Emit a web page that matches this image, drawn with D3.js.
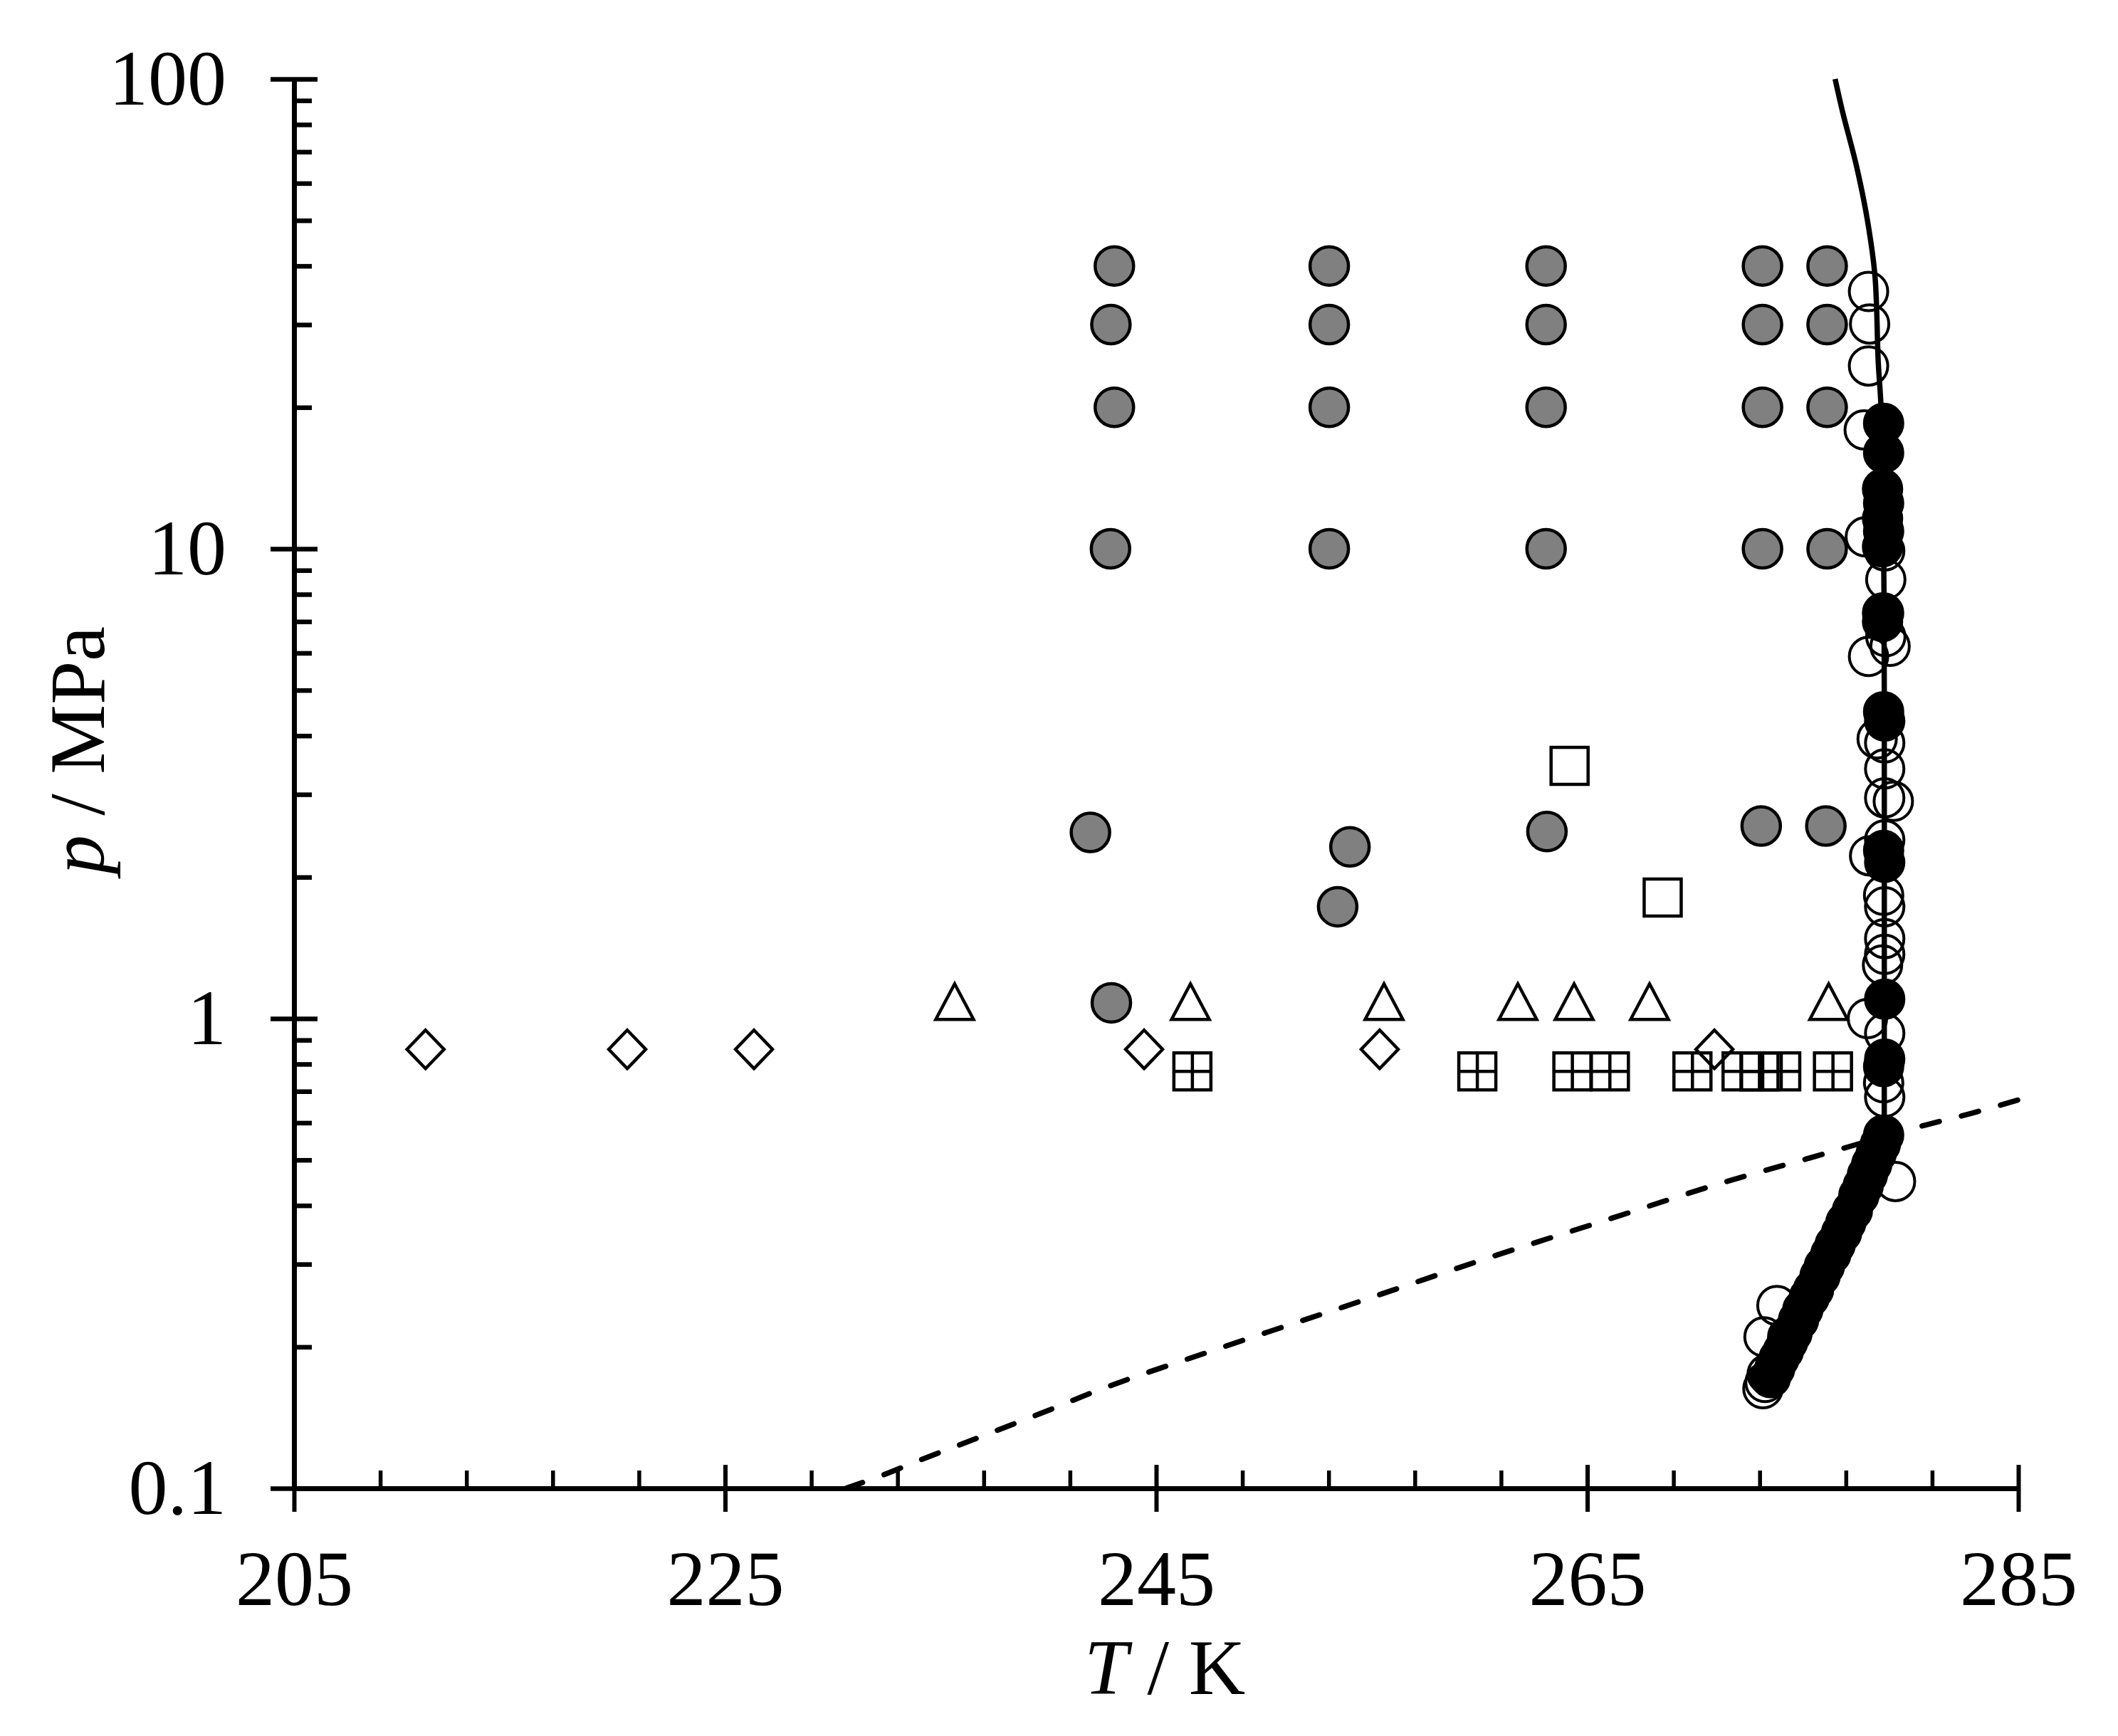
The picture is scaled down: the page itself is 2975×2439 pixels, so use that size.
<!DOCTYPE html>
<html>
<head>
<meta charset="utf-8">
<script src="https://cdn.jsdelivr.net/npm/d3@7"></script>
<style>
  html, body { margin: 0; padding: 0; background: #fff; }
  svg { display: block; }
  text { font-family: "Liberation Serif", "Times New Roman", serif; fill: #000; }
</style>
</head>
<body>
<div id="chart"></div>
<script>
'use strict';

// axis ticks
const xMajor = [205, 225, 245, 265, 285];
const yMajor = [0.1, 1, 10, 100];
const yLabels = ['0.1', '1', '10', '100'];

// grey filled circles
const grayT = [243.06, 242.90, 243.06, 242.88, 242.92, 241.95,
               253.03, 253.03, 253.03, 253.03, 253.99, 253.42,
               263.09, 263.09, 263.09, 263.09, 263.13,
               273.13, 273.13, 273.13, 273.13, 273.07,
               276.13, 276.13, 276.13, 276.13, 276.07];
const grayP = [40, 30, 20, 10, 1.08, 2.49,
               40, 30, 20, 10, 2.32, 1.73,
               40, 30, 20, 10, 2.50,
               40, 30, 20, 10, 2.57,
               40, 30, 20, 10, 2.57];

// black filled circles
const blackT = [278.75, 278.75, 278.70, 278.75, 278.70, 278.75, 278.70,
                278.75, 278.70, 278.75, 278.80, 278.75, 278.80, 278.80, 278.80, 278.75,
                273.5, 273.7, 273.9, 274.1, 274.3, 274.5, 274.8, 275.0, 275.3, 275.5,
                275.8, 276.0, 276.3, 276.5, 276.8, 277.0, 277.3, 277.6, 277.8, 278.0,
                278.2, 278.4, 278.6, 278.75];
const blackP = [18.5, 16.0, 13.4, 12.5, 11.6, 10.9, 10.1,
                7.3, 7.0, 4.5, 4.3, 2.28, 2.15, 1.10, 0.82, 0.79,
                0.172, 0.180, 0.189, 0.196, 0.205, 0.214, 0.228, 0.240, 0.255, 0.265,
                0.283, 0.297, 0.315, 0.330, 0.350, 0.368, 0.390, 0.420, 0.440, 0.465,
                0.490, 0.515, 0.540, 0.565];

// open circles
const openT = [278.05, 278.10, 278.05, 277.85, 277.90, 278.80, 278.85, 278.70,
               278.05, 279.05, 278.85, 278.80, 278.45, 278.80, 279.20, 278.80,
               278.80, 278.10, 278.75, 278.80, 278.80, 278.80, 278.70, 278.00,
               278.80, 278.75, 278.80, 279.30,
               273.15, 273.25, 273.35, 273.20, 273.80, 274.30];
const openP = [35.3, 30.1, 24.5, 17.9, 10.6, 9.9, 8.6, 7.3,
               5.9, 6.2, 6.5, 3.86, 3.94, 3.4, 2.9, 2.95,
               2.4, 2.22, 1.83, 1.73, 1.48, 1.37, 1.30, 1.00,
               0.93, 0.73, 0.68, 0.45,
               0.163, 0.168, 0.175, 0.210, 0.245, 0.210];

// open triangles
const triT = [235.65, 246.59, 255.57, 261.78, 264.39, 267.89, 276.20];
const triP = [1.09, 1.09, 1.09, 1.09, 1.09, 1.09, 1.09];

// open diamonds
const diaT = [211.10, 220.46, 226.34, 244.44, 255.37, 270.90];
const diaP = [0.86, 0.86, 0.86, 0.86, 0.86, 0.86];

// squares with cross
const plusT = [246.68, 259.90, 264.31, 266.05, 269.88, 272.16, 272.99, 274.00, 276.40];
const plusP = [0.772, 0.772, 0.772, 0.772, 0.772, 0.772, 0.772, 0.772, 0.772];

// open squares
const sqT = [264.18, 268.50];
const sqP = [3.45, 1.81];

// solid line
const lineT = [276.50, 276.85, 277.50, 278.00, 278.35, 278.50, 278.63, 278.75, 278.78, 278.78, 278.78];
const lineP = [100, 85, 65, 50, 38, 25, 20, 10, 5, 1, 0.565];

// dashed line
const dashT = [230.6, 232.35, 233.97, 235.9, 238.1, 240.0, 241.9, 247.7, 254.0, 260.0, 266.0, 271.4, 275.2, 280.8, 282.8, 285.0];
const dashP = [0.100, 0.1068, 0.1145, 0.1238, 0.1355, 0.1465, 0.159, 0.197, 0.246, 0.305, 0.374, 0.449, 0.503, 0.595, 0.628, 0.671];

const width = 2975;
const height = 2439;

const svg = d3.select('#chart').append('svg')
    .attr('width', width)
    .attr('height', height);

const x = d3.scaleLinear().domain([205, 285]).range([413, 2835]);
const y = d3.scaleLog().domain([0.1, 100]).range([2091, 111]);

const xMinor = d3.range(205, 285, 4).filter(v => xMajor.indexOf(v) < 0);
const yMinor = y.ticks().filter(v => yMajor.indexOf(v) < 0);

function zip(a, b) {
    return a.map((v, i) => [v, b[i]]);
}

// lines
svg.append('path')
    .datum(zip(lineT, lineP))
    .attr('fill', 'none')
    .attr('stroke', '#000')
    .attr('stroke-width', 7.5)
    .attr('d', d3.line().x(d => x(d[0])).y(d => y(d[1])).curve(d3.curveCatmullRom));

svg.append('path')
    .datum(zip(dashT, dashP))
    .attr('fill', 'none')
    .attr('stroke', '#000')
    .attr('stroke-width', 7.5)
    .attr('stroke-linecap', 'round')
    .attr('stroke-dasharray', '25 32')
    .attr('d', d3.line().x(d => x(d[0])).y(d => y(d[1])).curve(d3.curveMonotoneX));

// marker shapes
const shapes = {
    circle: { draw(c) { c.moveTo(27, 0); c.arc(0, 0, 27, 0, 2 * Math.PI); } },
    diamond: { draw(c) { c.moveTo(0, -27); c.lineTo(26, 0); c.lineTo(0, 27); c.lineTo(-26, 0); c.closePath(); } },
    triangle: { draw(c) { c.moveTo(0, -24); c.lineTo(26.5, 26); c.lineTo(-26.5, 26); c.closePath(); } },
    square: { draw(c) { c.rect(-26, -26, 52, 52); } },
    plusSquare: { draw(c) {
        c.rect(-26, -26, 52, 52);
        c.moveTo(0, -26); c.lineTo(0, 26);
        c.moveTo(-26, 0); c.lineTo(26, 0);
    } }
};

function drawSeries(Ts, Ps, shape, fill, sw) {
    svg.append('g').selectAll('path')
        .data(zip(Ts, Ps))
        .join('path')
        .attr('transform', d => 'translate(' + x(d[0]) + ',' + y(d[1]) + ')')
        .attr('d', d3.symbol().type(shape))
        .attr('fill', fill)
        .attr('stroke', '#000')
        .attr('stroke-width', sw);
}

drawSeries(openT, openP, shapes.circle, 'none', 4);
drawSeries(blackT, blackP, shapes.circle, '#000', 4);
drawSeries(grayT, grayP, shapes.circle, '#808080', 4.5);
drawSeries(triT, triP, shapes.triangle, 'none', 4.5);
drawSeries(diaT, diaP, shapes.diamond, 'none', 4.5);
drawSeries(plusT, plusP, shapes.plusSquare, 'none', 4.5);
drawSeries(sqT, sqP, shapes.square, 'none', 4.5);

// axes
function styleAxis(g, sw) {
    g.selectAll('.tick line').attr('stroke', '#000').attr('stroke-width', sw);
    g.select('.domain').attr('stroke', '#000').attr('stroke-width', 7);
}

const xAxisG = svg.append('g').attr('transform', 'translate(0,' + y(0.1) + ')');
xAxisG.call(d3.axisBottom(x).tickValues(xMajor).tickSize(33).tickSizeOuter(0).tickFormat(d3.format('d')));
styleAxis(xAxisG, 6);
xAxisG.selectAll('text')
    .attr('y', 164)
    .attr('dy', null)
    .attr('font-size', 110)
    .attr('font-family', '"Liberation Serif", "Times New Roman", serif');

const xInner = svg.append('g').attr('transform', 'translate(0,' + y(0.1) + ')');
xInner.call(d3.axisBottom(x).tickValues(xMajor).tickSize(-33).tickSizeOuter(0).tickFormat(''));
xInner.select('.domain').remove();
styleAxis(xInner, 6);

const xMinorG = svg.append('g').attr('transform', 'translate(0,' + y(0.1) + ')');
xMinorG.call(d3.axisBottom(x).tickValues(xMinor).tickSize(-25).tickSizeOuter(0).tickFormat(''));
xMinorG.select('.domain').remove();
styleAxis(xMinorG, 5.5);

const yAxisG = svg.append('g').attr('transform', 'translate(' + x(205) + ',0)');
yAxisG.call(d3.axisLeft(y).tickValues(yMajor).tickSize(33).tickSizeOuter(0).tickPadding(62)
    .tickFormat((d, i) => yLabels[i]));
styleAxis(yAxisG, 6.5);
yAxisG.selectAll('text')
    .attr('font-size', 110)
    .attr('font-family', '"Liberation Serif", "Times New Roman", serif');

const yInner = svg.append('g').attr('transform', 'translate(' + x(205) + ',0)');
yInner.call(d3.axisLeft(y).tickValues(yMajor).tickSize(-33).tickSizeOuter(0).tickFormat(''));
yInner.select('.domain').remove();
styleAxis(yInner, 6.5);

const yMinorG = svg.append('g').attr('transform', 'translate(' + x(205) + ',0)');
yMinorG.call(d3.axisLeft(y).tickValues(yMinor).tickSize(-25).tickSizeOuter(0).tickFormat(''));
yMinorG.select('.domain').remove();
styleAxis(yMinorG, 6.5);

// axis titles
const xTitle = svg.append('text')
    .attr('x', 1636)
    .attr('y', 2380)
    .attr('text-anchor', 'middle')
    .attr('font-size', 110);
xTitle.append('tspan').attr('font-style', 'italic').text('T');
xTitle.append('tspan').text(' / K');

const yTitle = svg.append('text')
    .attr('transform', 'translate(146,1054) rotate(-90)')
    .attr('text-anchor', 'middle')
    .attr('font-size', 110);
yTitle.append('tspan').attr('font-style', 'italic').text('p');
yTitle.append('tspan').text(' / MPa');
</script>
</body>
</html>
